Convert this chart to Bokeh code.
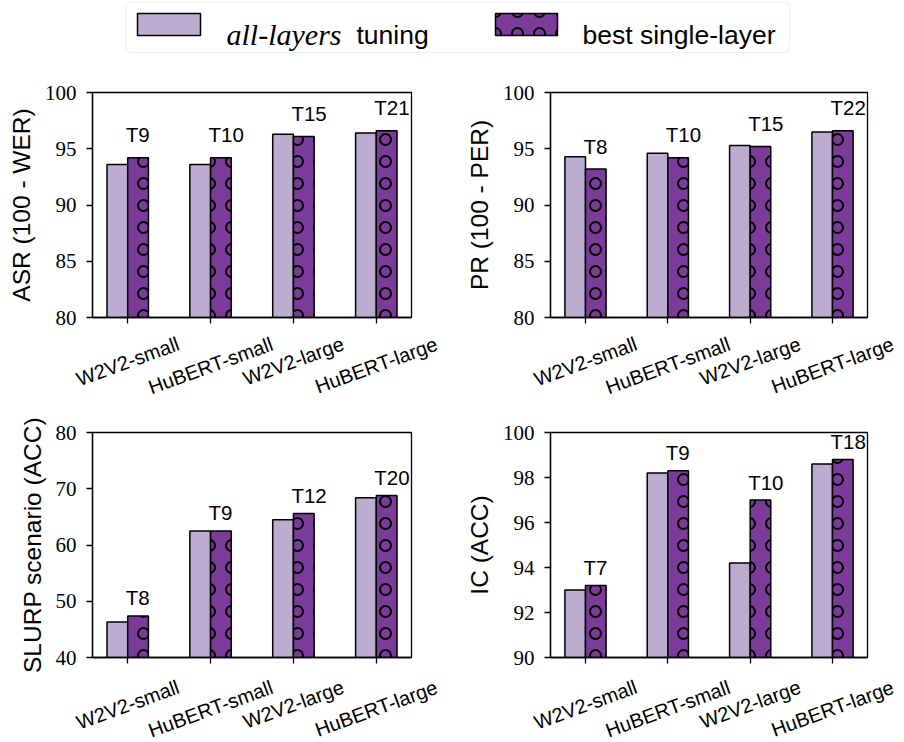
import math

from bokeh.core.properties import value
from bokeh.embed import file_html
from bokeh.layouts import column, row
from bokeh.models import (BoxAnnotation, ColumnDataSource, CustomJSTickFormatter, FixedTicker,
                          Label, LabelSet, Range1d)
from bokeh.plotting import figure
from bokeh.resources import INLINE

# ---- data -------------------------------------------------------------
models = ["W2V2-small", "HuBERT-small", "W2V2-large", "HuBERT-large"]

asr_all = [93.6, 93.6, 96.3, 96.4]
asr_best = [94.2, 94.2, 96.1, 96.6]
asr_layer = ["T9", "T10", "T15", "T21"]
asr_ticks = [80, 85, 90, 95, 100]

pr_all = [94.3, 94.6, 95.3, 96.5]
pr_best = [93.2, 94.2, 95.2, 96.6]
pr_layer = ["T8", "T10", "T15", "T22"]
pr_ticks = [80, 85, 90, 95, 100]

slurp_all = [46.3, 62.5, 64.5, 68.4]
slurp_best = [47.4, 62.5, 65.6, 68.8]
slurp_layer = ["T8", "T9", "T12", "T20"]
slurp_ticks = [40, 50, 60, 70, 80]

ic_all = [93.0, 98.2, 94.2, 98.6]
ic_best = [93.2, 98.3, 97.0, 98.8]
ic_layer = ["T7", "T9", "T10", "T18"]
ic_ticks = [90, 92, 94, 96, 98, 100]

# ---- style ------------------------------------------------------------
LIGHT = "#bcaccf"
DARK = "#7b3b98"
SANS = "Liberation Sans"
SERIF = "Liberation Serif"
BAR_W = 0.25
PAD = 0.425
NAME_PX = 20
NAME_BOX = 1.117          # ascent + descent of the sans face, in em
SLANT = math.radians(20)
PAGE_W = 904
PANEL_W = 452
TOP, FRAME_H = 30, 225
ROW_H = 340
HATCH = dict(hatch_pattern="ring", hatch_color="black", hatch_weight=2, hatch_scale=22)

# advance widths (per 1000 em) of the sans face, used to stack the slanted names
_ADV = {"W": 944, "2": 556, "V": 667, "-": 333, "s": 500, "m": 833, "a": 556, "l": 222,
        "H": 722, "u": 556, "B": 667, "E": 667, "R": 722, "T": 611, "r": 333, "g": 556,
        "e": 556}


def text_px(s, size):
    return sum(_ADV.get(c, 556) for c in s) * size / 1000.0


def panel(all_vals, best_vals, layers, y_ticks, y_label, left, right, bottom, gap):
    """One bar panel; also returns where its group centres fall on the page."""
    n = len(models)
    idx = list(range(n))
    y_lo, y_hi = y_ticks[0], y_ticks[-1]
    src = ColumnDataSource(dict(
        x_all=[i - BAR_W / 2 for i in idx],
        x_best=[i + BAR_W / 2 for i in idx],
        all=all_vals, best=best_vals,
    ))
    p = figure(width=PANEL_W, height=TOP + FRAME_H + bottom, x_range=Range1d(-PAD, n - 1 + PAD),
               y_range=Range1d(y_lo, y_hi), output_backend="svg", toolbar_location=None,
               min_border_left=left, min_border_right=right,
               min_border_top=TOP, min_border_bottom=bottom)
    p.vbar(x="x_all", top="all", bottom=y_lo, width=BAR_W, source=src,
           fill_color=LIGHT, line_color="black", line_width=1.5)
    p.vbar(x="x_best", top="best", bottom=y_lo, width=BAR_W, source=src,
           fill_color=DARK, line_color="black", line_width=1.5, **HATCH)

    # layer tag above each single-layer bar
    for i in idx:
        p.add_layout(Label(x=i, y=best_vals[i], text=layers[i], y_offset=gap, x_offset=-2,
                           text_align="left", text_baseline="alphabetic",
                           text_font=SANS, text_font_size="20.5px", text_color="black"))

    p.grid.visible = False
    p.outline_line_color = "black"
    p.outline_line_width = 1.3
    p.background_fill_color = "white"
    p.border_fill_color = "white"

    # tick marks at the group centres; the names are set in a strip below
    p.xaxis.ticker = FixedTicker(ticks=idx)
    p.xaxis.formatter = CustomJSTickFormatter(code="return '';")
    p.xaxis.major_label_text_font_size = "1px"
    p.xaxis.major_label_standoff = 0
    p.yaxis.ticker = FixedTicker(ticks=y_ticks)
    for ax in (p.xaxis, p.yaxis):
        ax.major_tick_out = 6
        ax.major_tick_in = 0
        ax.minor_tick_line_color = None
        ax.axis_line_color = "black"
        ax.axis_line_width = 1.3
        ax.major_tick_line_width = 1.3
        ax.major_tick_line_color = "black"
    p.yaxis.major_label_text_font = SERIF
    p.yaxis.major_label_text_font_size = "21px"
    p.yaxis.major_label_text_color = "black"
    p.yaxis.major_label_standoff = 10
    p.yaxis.axis_label = y_label
    p.yaxis.axis_label_text_font = SANS
    p.yaxis.axis_label_text_font_size = "24.5px"
    p.yaxis.axis_label_text_font_style = "normal"
    p.yaxis.axis_label_text_color = "black"
    p.yaxis.axis_label_standoff = 7

    ppu = (PANEL_W - left - right) / (n - 1 + 2 * PAD)
    centres = [left + (i + PAD) * ppu for i in idx]
    return p, centres


def names_strip(centres_per_panel, height, inset):
    """Full-width strip of slanted model names, each centred under its tick,
    with the slanted text boxes hanging from a common top line."""
    xs, ys, texts = [], [], []
    for k, centres in enumerate(centres_per_panel):
        for c, m in zip(centres, models):
            box_h = (text_px(m, NAME_PX) * math.sin(SLANT)
                     + NAME_BOX * NAME_PX * math.cos(SLANT))
            xs.append(k * PANEL_W + c)
            ys.append(height - inset - box_h / 2)
            texts.append(m)
    s = figure(width=PAGE_W, height=height, output_backend="svg", toolbar_location=None,
               x_range=Range1d(0, PAGE_W), y_range=Range1d(0, height), min_border=0,
               x_axis_location=None, y_axis_location=None, outline_line_color=None)
    s.grid.visible = False
    s.add_layout(LabelSet(x="x", y="y", text="name",
                          source=ColumnDataSource(dict(x=xs, y=ys, name=texts)),
                          angle=SLANT, text_align="center", text_baseline="middle",
                          text_font=value(SANS), text_font_size=f"{NAME_PX}px",
                          text_color="black"))
    return s


TOP_ROW_BOTTOM, LOW_ROW_BOTTOM = 12, 18
tl, tl_c = panel(asr_all, asr_best, asr_layer, asr_ticks, "ASR (100 - WER)", 92, 41,
                 TOP_ROW_BOTTOM, 23)
tr, tr_c = panel(pr_all, pr_best, pr_layer, pr_ticks, "PR (100 - PER)", 98, 37,
                 TOP_ROW_BOTTOM, 23)
bl, bl_c = panel(slurp_all, slurp_best, slurp_layer, slurp_ticks, "SLURP scenario (ACC)", 92, 41,
                 LOW_ROW_BOTTOM, 18)
br, br_c = panel(ic_all, ic_best, ic_layer, ic_ticks, "IC (ACC)", 98, 37,
                 LOW_ROW_BOTTOM, 18)

# ---- legend strip (coordinates are pixels, y measured from the top) ---
LEG_H = 62
leg = figure(width=PAGE_W, height=LEG_H, x_range=Range1d(0, PAGE_W), y_range=Range1d(0, LEG_H),
             output_backend="svg", toolbar_location=None, min_border=0,
             x_axis_location=None, y_axis_location=None, outline_line_color=None)
leg.grid.visible = False


def ty(v):
    return LEG_H - v


leg.add_layout(BoxAnnotation(left=125, right=789, top=ty(2), bottom=ty(52), border_radius=5,
                             fill_color="white", fill_alpha=1, line_color="#cccccc", line_width=1.2))
leg.add_layout(BoxAnnotation(left=137, right=200, top=ty(13), bottom=ty(35),
                             fill_color=LIGHT, fill_alpha=1, line_color="black", line_alpha=1,
                             line_width=1.5))
leg.add_layout(BoxAnnotation(left=495, right=557, top=ty(13), bottom=ty(35),
                             fill_color=DARK, fill_alpha=1, line_color="black", line_alpha=1,
                             line_width=1.5, hatch_alpha=1, **HATCH))
leg.add_layout(Label(x=226, y=ty(34), text="all-layers", text_font=SERIF, text_font_style="italic",
                     text_font_size="30px", text_baseline="alphabetic", text_color="black"))
leg.add_layout(Label(x=356, y=ty(34), text="tuning", text_font=SANS,
                     text_font_size="26.5px", text_baseline="alphabetic", text_color="black"))
leg.add_layout(Label(x=582, y=ty(34), text="best single-layer", text_font=SANS,
                     text_font_size="26.5px", text_baseline="alphabetic", text_color="black"))

top_names = names_strip([tl_c, tr_c], ROW_H - TOP - FRAME_H - TOP_ROW_BOTTOM, 3)
low_names = names_strip([bl_c, br_c], ROW_H - TOP - FRAME_H - LOW_ROW_BOTTOM, 0.2)

layout = column(leg,
                row(tl, tr, spacing=0), top_names,
                row(bl, br, spacing=0), low_names,
                spacing=0)

with open("out.html", "w") as f:
    f.write(file_html(layout, INLINE))
